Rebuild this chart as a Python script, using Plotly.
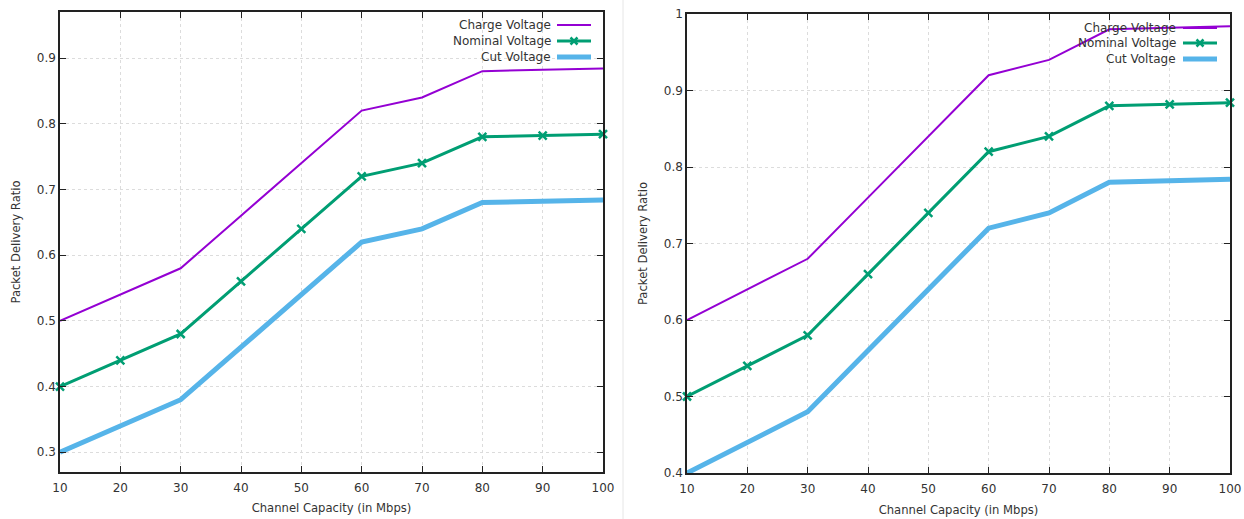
import plotly.graph_objects as go

capacity = [10, 20, 30, 40, 50, 60, 70, 80, 90, 100]

left_charge = [0.50, 0.54, 0.58, 0.66, 0.74, 0.82, 0.84, 0.88, 0.882, 0.884]
left_nominal = [0.40, 0.44, 0.48, 0.56, 0.64, 0.72, 0.74, 0.78, 0.782, 0.784]
left_cut = [0.30, 0.34, 0.38, 0.46, 0.54, 0.62, 0.64, 0.68, 0.682, 0.684]

right_charge = [0.60, 0.64, 0.68, 0.76, 0.84, 0.92, 0.94, 0.98, 0.982, 0.984]
right_nominal = [0.50, 0.54, 0.58, 0.66, 0.74, 0.82, 0.84, 0.88, 0.882, 0.884]
right_cut = [0.40, 0.44, 0.48, 0.56, 0.64, 0.72, 0.74, 0.78, 0.782, 0.784]

x_ticks = [10, 20, 30, 40, 50, 60, 70, 80, 90, 100]
left_y_ticks = [0.3, 0.4, 0.5, 0.6, 0.7, 0.8, 0.9]
right_y_ticks = [0.4, 0.5, 0.6, 0.7, 0.8, 0.9, 1.0]

series_names = ["Charge Voltage", "Nominal Voltage", "Cut Voltage"]
PURPLE = "#9400D3"
GREEN = "#009E73"
BLUE = "#56B4E9"
TXT = "#333333"
FONT = "DejaVu Sans"

fig = go.Figure()


def add_panel(xa, ya, charge, nominal, cut):
    fig.add_trace(go.Scatter(x=capacity, y=cut, mode="lines", name=series_names[2],
                             line=dict(color=BLUE, width=5), xaxis=xa, yaxis=ya, showlegend=False))
    fig.add_trace(go.Scatter(x=capacity, y=nominal, mode="lines+markers", name=series_names[1],
                             line=dict(color=GREEN, width=3),
                             marker=dict(symbol="x-thin", size=8, color=GREEN,
                                         line=dict(color=GREEN, width=2.5)),
                             xaxis=xa, yaxis=ya, showlegend=False, cliponaxis=False))
    fig.add_trace(go.Scatter(x=capacity, y=charge, mode="lines", name=series_names[0],
                             line=dict(color=PURPLE, width=2), xaxis=xa, yaxis=ya, showlegend=False))


add_panel("x", "y", left_charge, left_nominal, left_cut)
add_panel("x2", "y2", right_charge, right_nominal, right_cut)

axis_common = dict(
    showline=True, linecolor="#222222", linewidth=1.5, mirror="ticks",
    ticks="inside", ticklen=6, tickwidth=1.2, tickcolor="#222222",
    showgrid=True, gridcolor="#dcdcdc", griddash="dot", gridwidth=1,
    zeroline=False, automargin=False,
    tickfont=dict(family=FONT, size=12, color=TXT),
    title_font=dict(family=FONT, size=11.6, color=TXT),
)

fig.update_layout(
    width=1244, height=519,
    margin=dict(l=0, r=0, t=0, b=0, autoexpand=False),
    paper_bgcolor="white", plot_bgcolor="white",
    font=dict(family=FONT, color=TXT),
    xaxis=dict(domain=[60 / 1244, 603 / 1244], range=[10, 100], tickvals=x_ticks,
               ticklabelstandoff=4,
               title=dict(text="Channel Capacity (in Mbps)", standoff=10), anchor="y", **axis_common),
    yaxis=dict(domain=[1 - 472 / 519, 1 - 12 / 519], range=[0.27, 0.97], tickvals=left_y_ticks,
               title=dict(text="Packet Delivery Ratio", standoff=14), anchor="x", **axis_common),
    xaxis2=dict(domain=[687 / 1244, 1230 / 1244], range=[10, 100], tickvals=x_ticks,
                ticklabelstandoff=4,
                title=dict(text="Channel Capacity (in Mbps)", standoff=11), anchor="y2", **axis_common),
    yaxis2=dict(domain=[1 - 473 / 519, 1 - 14 / 519], range=[0.4, 1.0], tickvals=right_y_ticks,
                title=dict(text="Packet Delivery Ratio", standoff=14), anchor="x2", **axis_common),
)

# gnuplot-style key: text right-aligned, sample on the right
colors = [PURPLE, GREEN, BLUE]
widths = [2, 3, 5]


def add_key(text_right_px, line_x0_px, line_x1_px, rows_px):
    for i, name in enumerate(series_names):
        yp = 1 - rows_px[i] / 519
        fig.add_annotation(xref="paper", yref="paper", x=text_right_px / 1244, y=yp,
                           text=name, showarrow=False, xanchor="right", yanchor="middle",
                           font=dict(family=FONT, size=12, color=TXT))
        fig.add_shape(type="line", xref="paper", yref="paper",
                      x0=line_x0_px / 1244, x1=line_x1_px / 1244, y0=yp, y1=yp,
                      line=dict(color=colors[i], width=widths[i]))
        if i == 1:
            cx = (line_x0_px + line_x1_px) / 2
            for dy in (-1, 1):
                fig.add_shape(type="line", xref="paper", yref="paper",
                              x0=(cx - 3.5) / 1244, x1=(cx + 3.5) / 1244,
                              y0=yp - dy * 3.5 / 519, y1=yp + dy * 3.5 / 519,
                              line=dict(color=GREEN, width=2.5))


add_key(553, 557, 591, [25, 41, 57])
add_key(1178, 1183, 1217, [28, 43, 59])

# thin divider between the two panels
fig.add_shape(type="line", xref="paper", yref="paper", x0=623 / 1244, x1=623 / 1244,
              y0=0, y1=1, line=dict(color="#e6e6e6", width=1))

fig.write_html(
    "out.html",
    config={"displayModeBar": False},
    post_script="document.documentElement.style.margin='0';document.body.style.margin='0';"
                "document.body.style.padding='0';document.body.style.overflow='hidden';",
)
